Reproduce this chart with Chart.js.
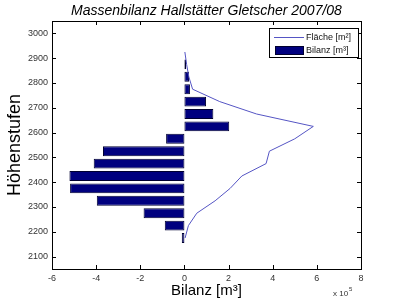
<!DOCTYPE html>
<html>
<head>
<meta charset="utf-8">
<script src="https://cdn.jsdelivr.net/npm/chart.js@4"></script>
<style>
  html, body { margin: 0; padding: 0; background: #fff; }
  #wrap { width: 400px; height: 300px; }
</style>
</head>
<body>
<div id="wrap"><canvas id="massChart" width="400" height="300"></canvas></div>
<script>
// setup
const titleText = 'Massenbilanz Hallstätter Gletscher 2007/08';
// Höhenstufen (band centres, m)
const hoehen = [2175, 2225, 2275, 2325, 2375, 2425, 2475, 2525, 2575, 2625, 2675, 2725, 2775, 2825, 2875];
// Bilanz in 10^5 m³
const bilanz = [-0.12, -0.89, -1.85, -3.97, -5.18, -5.21, -4.11, -3.69, -0.83, 2.03, 1.31, 0.98, 0.25, 0.21, 0.08];
// Fläche in 10^5 m² (line)
const flaecheHoehen = [2175, 2225, 2275, 2325, 2375, 2425, 2475, 2525, 2575, 2625, 2675, 2725, 2775, 2825, 2875, 2925];
const flaeche = [0.03, 0.18, 0.56, 1.39, 2.07, 2.6, 3.7, 3.85, 5.0, 5.84, 3.27, 1.6, 0.37, 0.2, 0.1, 0.02];
const xTicks = [-6, -4, -2, 0, 2, 4, 6, 8];
const yTicks = [2100, 2200, 2300, 2400, 2500, 2600, 2700, 2800, 2900, 3000];

const barColor = '#00007f';
const lineColor = '#5555c4';
const fontFam = '"Liberation Sans", Arial, sans-serif';

// title, box, inward ticks, legend and exponent label (matlab look)
const matlabBox = {
  id: 'matlabBox',
  afterDraw(chart) {
    const ctx = chart.ctx;
    const a = chart.chartArea;
    const xs = chart.scales.x, ys = chart.scales.y;
    const tl = 4;
    ctx.save();
    ctx.strokeStyle = '#000';
    ctx.lineWidth = 1;
    ctx.beginPath();
    xTicks.forEach(v => {
      const px = Math.round(xs.getPixelForValue(v)) + 0.5;
      ctx.moveTo(px, a.bottom); ctx.lineTo(px, a.bottom - tl);
      ctx.moveTo(px, a.top); ctx.lineTo(px, a.top + tl);
    });
    yTicks.forEach(v => {
      const py = Math.round(ys.getPixelForValue(v)) + 0.5;
      ctx.moveTo(a.left, py); ctx.lineTo(a.left + tl, py);
      ctx.moveTo(a.right, py); ctx.lineTo(a.right - tl, py);
    });
    ctx.stroke();
    ctx.strokeRect(Math.round(a.left) + 0.5, Math.round(a.top) + 0.5,
      Math.round(a.right - a.left), Math.round(a.bottom - a.top));

    // title centred over the axes
    ctx.fillStyle = '#000';
    ctx.font = 'italic 14px ' + fontFam;
    ctx.textAlign = 'center';
    ctx.textBaseline = 'middle';
    ctx.fillText(titleText, (a.left + a.right) / 2, 11);
    ctx.textAlign = 'left';

    // legend
    const lx = 269, ly = 28, lw = 89, lh = 29;
    ctx.fillStyle = '#fff';
    ctx.fillRect(lx, ly, lw, lh);
    ctx.strokeStyle = '#000';
    ctx.strokeRect(lx + 0.5, ly + 0.5, lw, lh);
    ctx.strokeStyle = lineColor;
    ctx.beginPath();
    ctx.moveTo(274, 37.5); ctx.lineTo(304, 37.5);
    ctx.stroke();
    ctx.fillStyle = barColor;
    ctx.fillRect(275, 46, 29, 9);
    ctx.strokeStyle = '#000030';
    ctx.strokeRect(275.5, 46.5, 28, 8);
    ctx.fillStyle = '#111';
    ctx.font = '9px ' + fontFam;
    ctx.fillText('Fläche [m²]', 306, 37.5);
    ctx.fillText('Bilanz [m³]', 306, 50.5);

    // exponent
    ctx.font = '8px ' + fontFam;
    ctx.fillStyle = '#333';
    ctx.fillText('x 10', 333, 294);
    ctx.font = '6px ' + fontFam;
    ctx.fillText('5', 349, 289);
    ctx.restore();
  }
};

const data = {
  datasets: [{
    type: 'bar',
    label: 'Bilanz [m³]',
    data: hoehen.map((h, i) => ({ x: bilanz[i], y: h })),
    backgroundColor: barColor,
    borderColor: '#000030',
    borderWidth: 1,
    borderSkipped: false,
    barPercentage: 0.8,
    categoryPercentage: 1,
    order: 2
  }, {
    type: 'scatter',
    label: 'Fläche [m²]',
    data: flaecheHoehen.map((h, i) => ({ x: flaeche[i], y: h })),
    showLine: true,
    borderColor: lineColor,
    borderWidth: 1,
    pointRadius: 0,
    fill: false,
    order: 1
  }]
};

// config
const config = {
  type: 'bar',
  data,
  plugins: [matlabBox],
  options: {
    indexAxis: 'y',
    responsive: false,
    animation: false,
    layout: { padding: { left: 0, right: 39, top: 21, bottom: 0 } },
    plugins: {
      legend: { display: false },
      tooltip: { enabled: false },
      title: { display: false }
    },
    scales: {
      x: {
        type: 'linear',
        min: -6, max: 8,
        afterFit: (s) => { s.height = 31; },
        afterBuildTicks: (s) => { s.ticks = xTicks.map(v => ({ value: v })); },
        grid: { display: false, drawTicks: false },
        border: { display: false },
        ticks: { color: '#333', font: { family: fontFam, size: 9 }, padding: 4, maxRotation: 0, callback: v => String(v) },
        title: {
          display: true, text: 'Bilanz [m³]', color: '#000',
          font: { family: fontFam, size: 15 }, padding: { top: 0, bottom: 0 }
        }
      },
      y: {
        type: 'linear',
        min: 2100, max: 3000,
        afterFit: (s) => { s.width = 52; },
        afterBuildTicks: (s) => { s.ticks = yTicks.map(v => ({ value: v })); },
        grid: { display: false, drawTicks: false },
        border: { display: false },
        ticks: { color: '#333', font: { family: fontFam, size: 9 }, padding: 4, callback: v => String(v) },
        title: {
          display: true, text: 'Höhenstufen', color: '#000',
          font: { family: fontFam, size: 18 }, padding: { top: 4, bottom: 0 }
        }
      }
    }
  }
};

// render
const massChart = new Chart(document.getElementById('massChart'), config);
</script>
</body>
</html>
